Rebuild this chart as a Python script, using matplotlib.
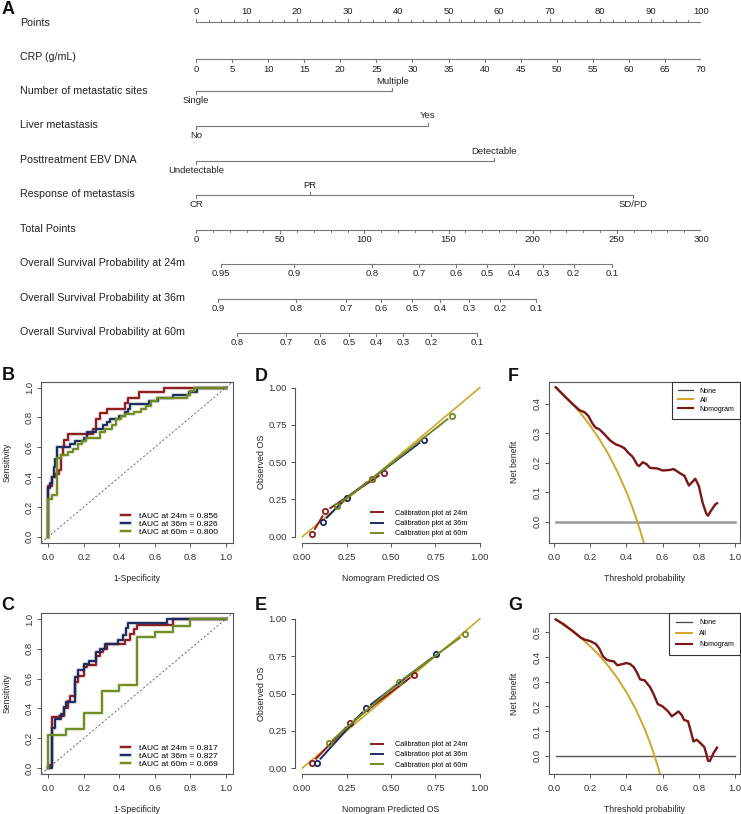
import numpy as np
import matplotlib
matplotlib.use('Agg')
import matplotlib.pyplot as plt
import matplotlib.patheffects as pe
from matplotlib.lines import Line2D

plt.rcParams['font.family'] = ['Liberation Sans', 'DejaVu Sans']

# ---------------- data ----------------
# nomogram (positions on the 0-100 points scale)
points_ticks = [0, 10, 20, 30, 40, 50, 60, 70, 80, 90, 100]
crp_ticks = [0, 5, 10, 15, 20, 25, 30, 35, 40, 45, 50, 55, 60, 65, 70]
crp_max = 70
sites_labels = ['Single', 'Multiple']
sites_points = [0, 38.9]
liver_labels = ['No', 'Yes']
liver_points = [0, 45.9]
ebv_labels = ['Undetectable', 'Detectable']
ebv_points = [0, 59.0]
resp_labels = ['CR', 'PR', 'SD/PD']
resp_points = [0, 22.6, 86.5]
total_ticks = [0, 50, 100, 150, 200, 250, 300]
os24_labels = ['0.95', '0.9', '0.8', '0.7', '0.6', '0.5', '0.4', '0.3', '0.2', '0.1']
os24_total = [14.6, 58.5, 104.7, 132.4, 154.5, 172.7, 188.9, 206.3, 224.4, 247.4]
os36_labels = ['0.9', '0.8', '0.7', '0.6', '0.5', '0.4', '0.3', '0.2', '0.1']
os36_total = [13.2, 59.3, 89.3, 110.0, 128.4, 145.2, 162.3, 180.5, 202.0]
os60_labels = ['0.8', '0.7', '0.6', '0.5', '0.4', '0.3', '0.2', '0.1']
os60_total = [24.3, 53.7, 73.9, 91.0, 107.2, 122.9, 139.6, 167.0]

# ROC, training (B)
b24_fpr = [0, 0, 0.02, 0.04, 0.06, 0.07, 0.08, 0.09, 0.11, 0.25, 0.27, 0.29, 0.33, 0.43, 0.45, 0.51, 0.65, 1.0]
b24_tpr = [0, 0.34, 0.40, 0.42, 0.45, 0.55, 0.60, 0.65, 0.69, 0.72, 0.79, 0.83, 0.86, 0.90, 0.93, 0.97, 1.0, 1.0]
b36_fpr = [0, 0, 0.01, 0.02, 0.03, 0.04, 0.05, 0.12, 0.15, 0.20, 0.22, 0.27, 0.31, 0.33, 0.35, 0.40, 0.43,
           0.45, 0.46, 0.57, 0.62, 0.70, 0.79, 0.84, 1.0]
b36_tpr = [0, 0.33, 0.36, 0.40, 0.47, 0.52, 0.60, 0.62, 0.64, 0.66, 0.70, 0.72, 0.75, 0.77, 0.79, 0.81, 0.84,
           0.86, 0.89, 0.91, 0.93, 0.95, 0.97, 1.0, 1.0]
b60_fpr = [0, 0, 0.02, 0.05, 0.07, 0.11, 0.14, 0.17, 0.19, 0.21, 0.29, 0.32, 0.36, 0.38, 0.41, 0.43, 0.48,
           0.52, 0.55, 0.58, 0.61, 0.78, 0.80, 0.82, 1.0]
b60_tpr = [0, 0.25, 0.28, 0.53, 0.55, 0.57, 0.59, 0.62, 0.64, 0.66, 0.70, 0.72, 0.75, 0.79, 0.81, 0.82, 0.84,
           0.86, 0.88, 0.91, 0.93, 0.95, 0.98, 1.0, 1.0]
b_auc = ['tAUC at 24m = 0.856', 'tAUC at 36m = 0.826', 'tAUC at 60m = 0.800']

# ROC, validation (C)
c24_fpr = [0, 0.01, 0.02, 0.06, 0.09, 0.11, 0.12, 0.15, 0.17, 0.20, 0.22, 0.27, 0.29, 0.31, 0.33, 0.43,
           0.46, 0.48, 0.50, 0.70, 1.0]
c24_tpr = [0, 0.02, 0.34, 0.35, 0.40, 0.45, 0.48, 0.58, 0.62, 0.68, 0.69, 0.75, 0.78, 0.80, 0.83, 0.86,
           0.90, 0.93, 0.96, 1.0, 1.0]
c36_fpr = [0, 0.02, 0.04, 0.07, 0.09, 0.10, 0.15, 0.17, 0.20, 0.23, 0.27, 0.29, 0.32, 0.39, 0.42, 0.44,
           0.45, 0.67, 1.0]
c36_tpr = [0, 0.27, 0.33, 0.36, 0.41, 0.44, 0.61, 0.66, 0.70, 0.72, 0.78, 0.80, 0.83, 0.86, 0.89, 0.94,
           0.97, 1.0, 1.0]
c60_fpr = [0, 0, 0.10, 0.20, 0.30, 0.40, 0.50, 0.60, 0.70, 0.80, 1.0]
c60_tpr = [0, 0.22, 0.26, 0.37, 0.52, 0.56, 0.88, 0.91, 0.95, 1.0, 1.0]
c_auc = ['tAUC at 24m = 0.817', 'tAUC at 36m = 0.827', 'tAUC at 60m = 0.669']

# calibration (D, E)
cal_diag = [0, 1]
d24_pred = [0.055, 0.13, 0.458]
d24_obs = [0.02, 0.17, 0.43]
d36_pred = [0.115, 0.25, 0.39, 0.686]
d36_obs = [0.10, 0.263, 0.387, 0.652]
d60_pred = [0.194, 0.39, 0.844]
d60_obs = [0.209, 0.387, 0.813]
e24_pred = [0.055, 0.269, 0.631]
e24_obs = [0.034, 0.301, 0.627]
e36_pred = [0.081, 0.36, 0.755]
e36_obs = [0.034, 0.402, 0.762]
e60_pred = [0.149, 0.546, 0.915]
e60_obs = [0.166, 0.578, 0.897]
cal_labels = ['Calibration plot at 24m', 'Calibration plot at 36m', 'Calibration plot at 60m']

# decision curves (F, G)
none_thr = [0.01, 1.0]
none_nb = [0, 0]
f_all_thr = [0.01, 0.05, 0.10, 0.15, 0.20, 0.25, 0.30, 0.35, 0.40, 0.425, 0.45, 0.475, 0.50]
f_all_nb = [0.455, 0.432, 0.40, 0.365, 0.325, 0.28, 0.229, 0.169, 0.10, 0.061, 0.018, -0.029, -0.08]
f_nom_thr = [0.01, 0.05, 0.10, 0.14, 0.17, 0.19, 0.21, 0.23, 0.25, 0.28, 0.31, 0.34, 0.37, 0.39, 0.41,
             0.43, 0.44, 0.46, 0.47, 0.49, 0.51, 0.53, 0.57, 0.60, 0.64, 0.66, 0.68, 0.70, 0.72, 0.745,
             0.765, 0.78, 0.80, 0.82, 0.84, 0.85, 0.87, 0.89, 0.90]
f_nom_nb = [0.455, 0.43, 0.40, 0.378, 0.37, 0.358, 0.335, 0.318, 0.313, 0.295, 0.275, 0.262, 0.255, 0.248,
            0.233, 0.222, 0.214, 0.192, 0.188, 0.201, 0.195, 0.182, 0.18, 0.173, 0.175, 0.178, 0.17, 0.162,
            0.155, 0.122, 0.135, 0.145, 0.12, 0.065, 0.028, 0.02, 0.04, 0.058, 0.062]
g_all_thr = [0.01, 0.05, 0.10, 0.15, 0.20, 0.25, 0.30, 0.35, 0.40, 0.45, 0.50, 0.525, 0.55, 0.575, 0.60]
g_all_nb = [0.551, 0.532, 0.506, 0.477, 0.444, 0.407, 0.364, 0.315, 0.258, 0.191, 0.11, 0.063, 0.011,
            -0.047, -0.113]
g_nom_thr = [0.01, 0.05, 0.10, 0.15, 0.17, 0.20, 0.23, 0.25, 0.27, 0.29, 0.31, 0.33, 0.35, 0.38, 0.40,
             0.42, 0.44, 0.46, 0.475, 0.50, 0.53, 0.55, 0.573, 0.60, 0.63, 0.65, 0.67, 0.687, 0.705, 0.718,
             0.74, 0.755, 0.77, 0.788, 0.81, 0.83, 0.84, 0.85, 0.86, 0.88, 0.90]
g_nom_nb = [0.553, 0.535, 0.508, 0.478, 0.471, 0.465, 0.454, 0.435, 0.404, 0.39, 0.385, 0.383, 0.367, 0.372,
            0.376, 0.372, 0.36, 0.335, 0.31, 0.306, 0.279, 0.25, 0.21, 0.20, 0.18, 0.16, 0.17, 0.18, 0.165,
            0.145, 0.14, 0.10, 0.058, 0.065, 0.05, 0.035, 0.01, -0.02, -0.022, 0.01, 0.033]
dca_labels = ['None', 'All', 'Nomogram']

# ---------------- style ----------------
RED = '#8b1c1c'
NAVY = '#1b2a5e'
OLIVE = '#6e8b22'
GOLD = '#d4a52c'
DCA_RED = '#7a1616'
AX_COL = '#555555'
TXT = '#222222'

W, H = 741, 814
fig = plt.figure(figsize=(W / 100, H / 100), dpi=100)

# ---------------- A: nomogram ----------------
axn = fig.add_axes([196 / W, 1 - 350 / H, 505 / W, 350 / H])
axn.set_xlim(0, 100)
axn.set_ylim(350, 0)
axn.axis('off')
LC = '#7a7a7a'
LAB_X = -34.85
tick_fs = 6.8


def row(y, xs, labels, sides, label, label_y, minor=None, tick=3):
    axn.plot([min(xs), max(xs)], [y, y], color=LC, lw=0.8, solid_capstyle='butt')
    for x, lab, s in zip(xs, labels, sides):
        d = -1 if s == 'up' else 1
        axn.plot([x, x], [y, y + d * tick], color=LC, lw=0.8)
        axn.text(x, y + d * 9.7, lab, ha='center', va='center', fontsize=tick_fs, color=TXT)
    if minor is not None:
        d = -1 if sides[0] == 'up' else 1
        for x in minor:
            axn.plot([x, x], [y, y + d * 2], color=LC, lw=0.7)
    axn.text(LAB_X, label_y, label, ha='left', va='center', fontsize=7.7, color=TXT, clip_on=False)


row(21.7, points_ticks, [str(v) for v in points_ticks], ['up'] * 11, 'Points', 23.3,
    minor=np.arange(0, 100.1, 2.5))
row(59.3, [v * 100 / crp_max for v in crp_ticks], [str(v) for v in crp_ticks], ['down'] * 15,
    'CRP (g/mL)', 56.7)
row(90.7, sites_points, sites_labels, ['down', 'up'], 'Number of metastatic sites', 90.7)
row(125.7, liver_points, liver_labels, ['down', 'up'], 'Liver metastasis', 125)
row(161, ebv_points, ebv_labels, ['down', 'up'], 'Posttreatment EBV DNA', 160)
row(195, resp_points, resp_labels, ['down', 'up', 'down'], 'Response of metastasis', 194.3)
row(230, [v / 3 for v in total_ticks], [str(v) for v in total_ticks], ['down'] * 7, 'Total Points', 229,
    minor=np.arange(0, 300.1, 10) / 3)
row(264.3, [v / 3 for v in os24_total], os24_labels, ['down'] * 10,
    'Overall Survival Probability at 24m', 263.3)
row(299, [v / 3 for v in os36_total], os36_labels, ['down'] * 9,
    'Overall Survival Probability at 36m', 297.7)
row(332.7, [v / 3 for v in os60_total], os60_labels, ['down'] * 8,
    'Overall Survival Probability at 60m', 331.7)


# ---------------- helpers ----------------
def panel_axes(left_px, top_px):
    return fig.add_axes([left_px / W, 1 - (top_px + 161) / H, 191.7 / W, 161 / H])


def style(ax, box=True, rot_y=True):
    for s in ax.spines.values():
        s.set_color(AX_COL)
        s.set_linewidth(0.8)
    ax.tick_params(colors=AX_COL, labelcolor='#333333', length=3, width=0.7, labelsize=6.8)
    ax.tick_params(axis='x', pad=4.5)
    if rot_y:
        ax.tick_params(axis='y', pad=2.2)
        for t in ax.get_yticklabels():
            t.set_rotation(90)
            t.set_va('center')
    else:
        ax.tick_params(axis='y', pad=3)
    if not box:
        ax.spines['top'].set_visible(False)
        ax.spines['right'].set_visible(False)
        ax.spines['left'].set_bounds(0, 1)
        ax.spines['bottom'].set_bounds(0, 1)


def labels(ax, xl, yl):
    ax.text(0.5, -0.22, xl, transform=ax.transAxes, ha='center', va='center', fontsize=6.2, color=TXT)
    ax.text(-0.177, 0.5, yl, transform=ax.transAxes, ha='center', va='center', rotation=90,
            fontsize=6.2, color=TXT)


def halo(c):
    return [pe.Stroke(linewidth=3.0, foreground=c, alpha=0.22), pe.Normal()]


def roc_panel(ax, curves, legend_labels):
    ax.axline((0, 0), (1, 1), color='#555555', lw=0.6, dashes=(2.5, 2.5))
    for (fpr, tpr), c, lab in zip(curves, [RED, NAVY, OLIVE], legend_labels):
        ax.plot(fpr, tpr, drawstyle='steps-post', color=c, lw=1.4, label=lab, path_effects=halo(c))
    ax.set_xlim(-0.04, 1.04)
    ax.set_ylim(-0.04, 1.04)
    ax.set_xticks(np.arange(0, 1.01, 0.2))
    ax.set_yticks(np.arange(0, 1.01, 0.2))
    ax.set_xticklabels(['%.1f' % v for v in np.arange(0, 1.01, 0.2)])
    ax.set_yticklabels(['%.1f' % v for v in np.arange(0, 1.01, 0.2)])
    style(ax)
    ax.legend(loc='lower left', bbox_to_anchor=(0.417, 0.04), frameon=False, fontsize=6,
              handlelength=1.05, handletextpad=1.1, labelspacing=0.02, borderpad=0, borderaxespad=0)
    labels(ax, '1-Specificity', 'Sensitivity')


def draw_b(ax, x, y, c):
    # R type="b": points joined by lines with small gaps around each point
    x = np.asarray(x)
    y = np.asarray(y)
    g = 0.03
    for i in range(len(x) - 1):
        dx, dy = x[i + 1] - x[i], y[i + 1] - y[i]
        L = np.hypot(dx, dy)
        if L > 2 * g:
            t = g / L
            ax.plot([x[i] + t * dx, x[i + 1] - t * dx], [y[i] + t * dy, y[i + 1] - t * dy],
                    color=c, lw=1.4, solid_capstyle='butt')
    ax.plot(x, y, 'o', ms=3.8, mfc='none', mec=c, mew=1.3)


def cal_panel(ax, series):
    ax.plot(cal_diag, cal_diag, color=GOLD, lw=1.2)
    for (xp, yo), c in zip(series, [RED, NAVY, OLIVE]):
        draw_b(ax, xp, yo, c)
    ax.set_xlim(-0.04, 1.04)
    ax.set_ylim(-0.04, 1.04)
    tk = np.arange(0, 1.01, 0.25)
    ax.set_xticks(tk)
    ax.set_yticks(tk)
    ax.set_xticklabels(['%.2f' % v for v in tk])
    ax.set_yticklabels(['%.2f' % v for v in tk])
    style(ax, box=False, rot_y=False)
    hs = [Line2D([], [], color=c, lw=1.4) for c in [RED, NAVY, OLIVE]]
    ax.legend(hs, cal_labels, loc='lower left', bbox_to_anchor=(0.398, 0.033), frameon=False,
              fontsize=5.2, handlelength=1.65, handletextpad=1.65, labelspacing=0.45, borderpad=0,
              borderaxespad=0)
    ax.text(0.5, -0.22, 'Nomogram Predicted OS', transform=ax.transAxes, ha='center', va='center',
            fontsize=6.2, color=TXT)
    ax.text(-0.175, 0.5, 'Observed OS', transform=ax.transAxes, ha='center', va='center',
            rotation=90, fontsize=6.5, color=TXT)


def dca_panel(ax, all_thr, all_nb, nom_thr, nom_nb, ylim, yt, none_col, none_lw, lsp, bpad, hl, htp):
    ax.plot(none_thr, none_nb, color=none_col, lw=none_lw)
    ax.plot(all_thr, all_nb, color=GOLD, lw=1.4)
    ax.plot(nom_thr, nom_nb, color=DCA_RED, lw=1.7)
    ax.set_xlim(-0.029, 1.029)
    ax.set_ylim(*ylim)
    ax.set_xticks(np.arange(0, 1.01, 0.2))
    ax.set_xticklabels(['%.1f' % v for v in np.arange(0, 1.01, 0.2)])
    ax.set_yticks(yt)
    ax.set_yticklabels(['%.1f' % v for v in yt])
    style(ax)
    hs = [Line2D([], [], color='#444444', lw=0.9), Line2D([], [], color=GOLD, lw=1.5),
          Line2D([], [], color=DCA_RED, lw=1.5)]
    leg = ax.legend(hs, dca_labels, loc='upper right', fontsize=5, fancybox=False, framealpha=1,
                    edgecolor='#333333', borderaxespad=0, labelspacing=lsp, borderpad=bpad,
                    handlelength=hl, handletextpad=htp)
    leg.get_frame().set_linewidth(0.8)
    labels(ax, 'Threshold probability', 'Net benefit')


# ---------------- B, C ----------------
axB = panel_axes(41.2, 381.7)
roc_panel(axB, [(b24_fpr, b24_tpr), (b36_fpr, b36_tpr), (b60_fpr, b60_tpr)], b_auc)
axC = panel_axes(41.2, 613)
roc_panel(axC, [(c24_fpr, c24_tpr), (c36_fpr, c36_tpr), (c60_fpr, c60_tpr)], c_auc)

# ---------------- D, E ----------------
axD = panel_axes(295.2, 381.7)
cal_panel(axD, [(d24_pred, d24_obs), (d36_pred, d36_obs), (d60_pred, d60_obs)])
axE = panel_axes(295.2, 613)
cal_panel(axE, [(e24_pred, e24_obs), (e36_pred, e36_obs), (e60_pred, e60_obs)])

# ---------------- F, G ----------------
axF = panel_axes(548.7, 381.7)
dca_panel(axF, f_all_thr, f_all_nb, f_nom_thr, f_nom_nb, (-0.0716, 0.474), [0, 0.1, 0.2, 0.3, 0.4],
          '#9a9a9a', 1.8, 0.3, 0.85, 2.2, 0.9)
axG = panel_axes(548.7, 613)
dca_panel(axG, g_all_thr, g_all_nb, g_nom_thr, g_nom_nb, (-0.074, 0.579), [0, 0.1, 0.2, 0.3, 0.4, 0.5],
          '#555555', 1.0, 0.58, 0.9, 2.3, 1.1)

# panel letters
for lab, x, y in [('A', 1.5, 10), ('B', 1.5, 375), ('C', 1.5, 606), ('D', 255, 376),
                  ('E', 255, 606), ('F', 508, 376), ('G', 508, 606)]:
    fig.text(x / W, 1 - y / H, lab, fontsize=13, fontweight='bold', ha='left', va='center',
             color='#111111')

fig.savefig('out.png', dpi=100)
